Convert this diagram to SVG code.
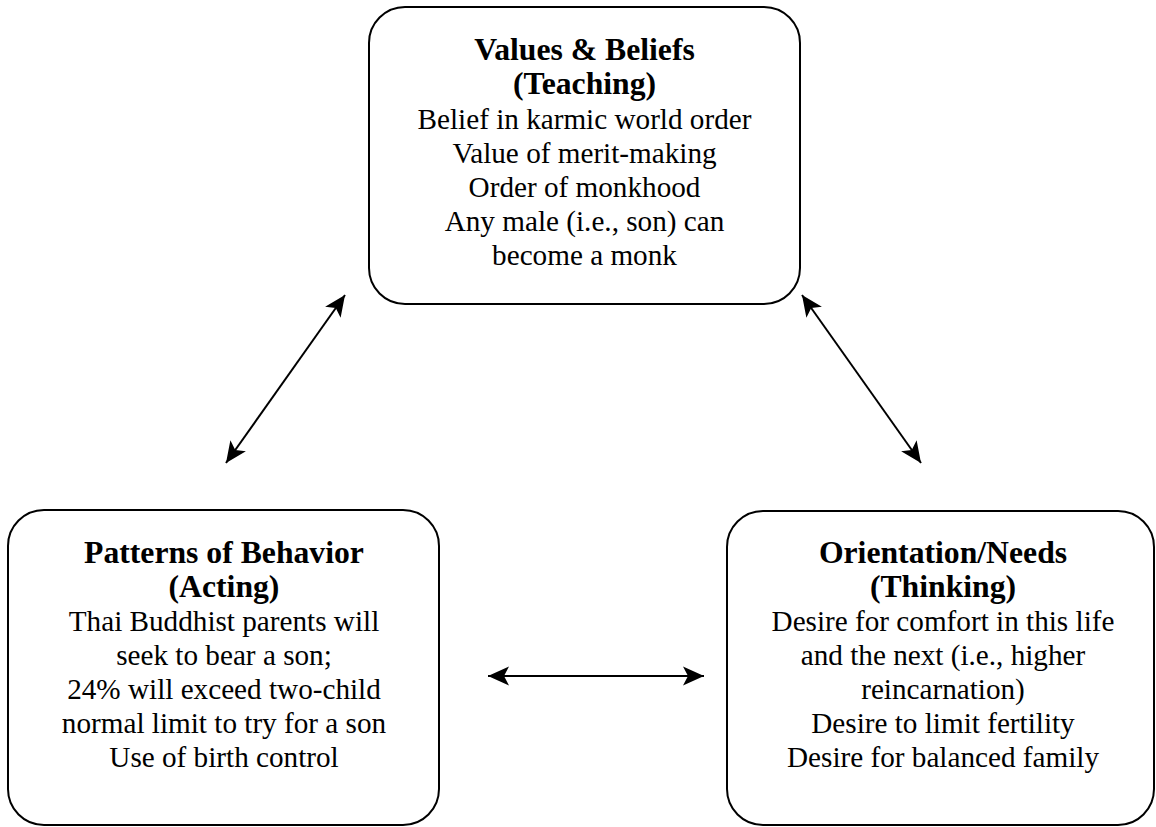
<svg xmlns="http://www.w3.org/2000/svg" width="1156" height="827" viewBox="0 0 1156 827">
  <style>
    .box { fill: #ffffff; stroke: #000000; stroke-width: 2; }
    .title { font-family: "Liberation Serif", "Times New Roman", serif; font-size: 31.7px; font-weight: bold; text-anchor: middle; fill: #000; }
    .body { font-family: "Liberation Serif", "Times New Roman", serif; font-size: 29.2px; text-anchor: middle; fill: #000; }
    .link { stroke: #000000; stroke-width: 2; fill: none; marker-start: url(#head); marker-end: url(#head); }
  </style>
  <defs>
    <marker id="head" markerUnits="userSpaceOnUse" viewBox="-22 -11 24 22" refX="0" refY="0" markerWidth="24" markerHeight="22" orient="auto-start-reverse">
      <path d="M0,0 L-21,-9.5 L-16,0 L-21,9.5 Z" fill="#000"/>
    </marker>
  </defs>

  <rect width="1156" height="827" fill="#ffffff"/>

  <!-- top node -->
  <g id="values-beliefs">
    <rect class="box" x="369" y="7" width="431" height="297" rx="36" ry="36"/>
    <text class="title" x="584.5" y="60">Values &amp; Beliefs</text>
    <text class="title" x="584.5" y="94">(Teaching)</text>
    <text class="body" x="584.5" y="129">Belief in karmic world order</text>
    <text class="body" x="584.5" y="163">Value of merit-making</text>
    <text class="body" x="584.5" y="197">Order of monkhood</text>
    <text class="body" x="584.5" y="231">Any male (i.e., son) can</text>
    <text class="body" x="584.5" y="265">become a monk</text>
  </g>

  <!-- bottom-left node -->
  <g id="patterns-behavior">
    <rect class="box" x="8" y="510" width="431" height="315" rx="36" ry="36"/>
    <text class="title" x="224" y="563">Patterns of Behavior</text>
    <text class="title" x="224" y="597">(Acting)</text>
    <text class="body" x="224" y="631">Thai Buddhist parents will</text>
    <text class="body" x="224" y="665">seek to bear a son;</text>
    <text class="body" x="224" y="699">24% will exceed two-child</text>
    <text class="body" x="224" y="733">normal limit to try for a son</text>
    <text class="body" x="224" y="767">Use of birth control</text>
  </g>

  <!-- bottom-right node -->
  <g id="orientation-needs">
    <rect class="box" x="727" y="511" width="427" height="314" rx="36" ry="36"/>
    <text class="title" x="943" y="563">Orientation/Needs</text>
    <text class="title" x="943" y="597">(Thinking)</text>
    <text class="body" x="943" y="631">Desire for comfort in this life</text>
    <text class="body" x="943" y="665">and the next (i.e., higher</text>
    <text class="body" x="943" y="699">reincarnation)</text>
    <text class="body" x="943" y="733">Desire to limit fertility</text>
    <text class="body" x="943" y="767">Desire for balanced family</text>
  </g>

  <!-- two-way connectors -->
  <g id="connectors">
    <line class="link" x1="226" y1="463" x2="345" y2="295"/>
    <line class="link" x1="802" y1="295" x2="921" y2="463"/>
    <line class="link" x1="488" y1="676" x2="704" y2="676"/>
  </g>
</svg>
